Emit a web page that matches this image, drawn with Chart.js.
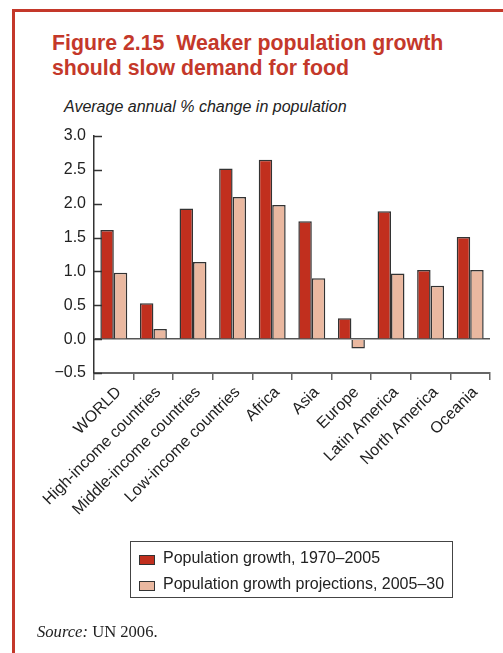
<!DOCTYPE html>
<html>
<head>
<meta charset="utf-8">
<script src="https://cdn.jsdelivr.net/npm/chart.js@4.4.1/dist/chart.umd.min.js"></script>
<style>
  html, body { margin: 0; padding: 0; background: #fff; }
  body { width: 503px; height: 653px; position: relative; overflow: hidden; font-family: "Liberation Sans", Arial, sans-serif; }
  #frameL { position: absolute; left: 12px; top: 9px; width: 3px; height: 660px; background: #c4382a; }
  #frameT { position: absolute; left: 12px; top: 9px; width: 520px; height: 3px; background: #c4382a; }
  #title { position: absolute; left: 52px; top: 31px; font-weight: bold; font-size: 21.3px; line-height: 25px; color: #c4382a; }
  #subtitle { position: absolute; left: 64px; top: 98px; font-style: italic; font-size: 16px; color: #222; }
  #chartWrap { position: absolute; left: 0; top: 0; width: 503px; height: 653px; }
  #legend { position: absolute; left: 130px; top: 541px; width: 323px; height: 57px; border: 1.5px solid #444; box-sizing: border-box; }
  .item { position: absolute; left: 8px; font-size: 16px; color: #222; white-space: nowrap; }
  .sw { position: absolute; left: 0; top: 5px; width: 14px; height: 8px; border: 1.5px solid #333; }
  .item span.t { position: absolute; left: 24px; top: -1px; }
  #source { position: absolute; left: 37px; top: 622px; font-family: "Liberation Serif", "Times New Roman", serif; font-size: 16.6px; color: #222; }
</style>
</head>
<body>
<div id="frameL"></div>
<div id="frameT"></div>
<div id="title">Figure 2.15&nbsp; Weaker population growth<br>should slow demand for food</div>
<div id="subtitle">Average annual % change in population</div>
<div id="chartWrap"><canvas id="c" width="503" height="653"></canvas></div>
<div id="legend"></div>
<div id="source"><i>Source:</i> UN 2006.</div>
<script>
const categories = ['WORLD', 'High-income countries', 'Middle-income countries', 'Low-income countries', 'Africa', 'Asia', 'Europe', 'Latin America', 'North America', 'Oceania'];
const growth1970to2005 = [1.61, 0.53, 1.93, 2.52, 2.65, 1.74, 0.31, 1.89, 1.02, 1.51];
const projection2005to30 = [0.98, 0.15, 1.14, 2.10, 1.98, 0.90, -0.14, 0.97, 0.79, 1.02];
const seriesNames = ['Population growth, 1970\u20132005', 'Population growth projections, 2005\u201330'];
const seriesColors = ['#c12f1e', '#eab8a0'];
const yMin = -0.5, yMax = 3.0, yStep = 0.5;

// HTML legend from series arrays
const legend = document.getElementById('legend');
seriesNames.forEach((name, i) => {
  const it = document.createElement('div');
  it.className = 'item';
  it.style.top = (8 + i * 26) + 'px';
  it.innerHTML = '<div class="sw" style="background:' + seriesColors[i] + '"></div><span class="t">' + name + '</span>';
  legend.appendChild(it);
});

const inwardTicks = {
  id: 'inwardTicks',
  afterDraw(chart) {
    const y = chart.scales.y;
    const ctx = chart.ctx;
    const left = chart.chartArea.left;
    ctx.save();
    ctx.strokeStyle = '#333';
    ctx.lineWidth = 1.5;
    y.ticks.forEach(t => {
      const py = Math.round(y.getPixelForValue(t.value)) + 0.5;
      ctx.beginPath();
      ctx.moveTo(left, py);
      ctx.lineTo(left + 8, py);
      ctx.stroke();
    });
    ctx.restore();
  }
};

new Chart(document.getElementById('c'), {
  type: 'bar',
  data: {
    labels: categories,
    datasets: [
      { label: seriesNames[0], data: growth1970to2005, backgroundColor: seriesColors[0], borderColor: '#333', borderWidth: 1.5, categoryPercentage: 0.68, barPercentage: 1.0 },
      { label: seriesNames[1], data: projection2005to30, backgroundColor: seriesColors[1], borderColor: '#333', borderWidth: 1.5, categoryPercentage: 0.68, barPercentage: 1.0 }
    ]
  },
  options: {
    responsive: false,
    animation: false,
    devicePixelRatio: 1,
    layout: { autoPadding: false, padding: { left: 0, right: 13, top: 136, bottom: 0 } },
    plugins: { legend: { display: false }, tooltip: { enabled: false }, title: { display: false } },
    scales: {
      x: {
        afterFit(scale) { scale.height = 280; },
        grid: { offset: true, drawOnChartArea: false, drawTicks: true, tickLength: 7, color: '#666', lineWidth: 1.5 },
        border: { display: true, color: '#666', width: 2 },
        ticks: {
          autoSkip: false, minRotation: 45, maxRotation: 45, padding: 3, labelOffset: 5,
          color: '#222', font: { family: '"Liberation Sans", Arial, sans-serif', size: 16 }
        }
      },
      y: {
        min: yMin, max: yMax,
        afterFit(scale) { scale.width = 94; },
        grid: {
          drawTicks: false, drawOnChartArea: true, lineWidth: 1.5,
          color: (c) => (c.tick && c.tick.value === 0) ? '#555' : 'rgba(0,0,0,0)'
        },
        border: { display: true, color: '#333', width: 1.5 },
        ticks: {
          stepSize: yStep, padding: 8, color: '#222',
          font: { family: '"Liberation Sans", Arial, sans-serif', size: 16 },
          callback: (v) => (v < 0 ? '\u2212' + Math.abs(v).toFixed(1) : v.toFixed(1))
        }
      }
    }
  },
  plugins: [inwardTicks]
});
</script>
</body>
</html>
